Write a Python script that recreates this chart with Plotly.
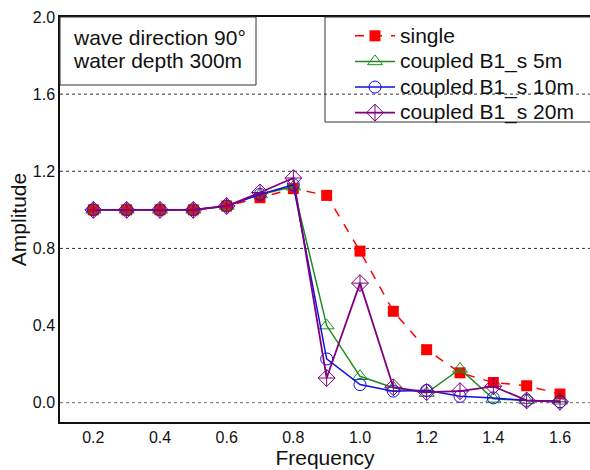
import plotly.graph_objects as go

# Frequency axis and response amplitudes
freq = [0.2, 0.3, 0.4, 0.5, 0.6, 0.7, 0.8, 0.9, 1.0, 1.1, 1.2, 1.3, 1.4, 1.5, 1.6]
single = [1.0, 1.0, 1.0, 1.0, 1.02, 1.063, 1.11, 1.075, 0.786, 0.474, 0.275, 0.155, 0.105, 0.088, 0.045]
coupled_5m = [1.0, 1.0, 1.0, 1.0, 1.02, 1.08, 1.12, 0.40, 0.137, 0.078, 0.05, 0.175, 0.02, 0.012, 0.01]
coupled_10m = [1.0, 1.0, 1.0, 1.0, 1.02, 1.08, 1.13, 0.227, 0.094, 0.06, 0.064, 0.033, 0.025, 0.012, 0.005]
coupled_20m = [1.0, 1.0, 1.0, 1.0, 1.02, 1.09, 1.165, 0.128, 0.62, 0.08, 0.055, 0.06, 0.085, 0.012, 0.005]

series_names = ["single", "coupled B1_s 5m", "coupled B1_s 10m", "coupled B1_s 20m"]
y_ticks = [0.0, 0.4, 0.8, 1.2, 1.6, 2.0]
x_ticks = [0.2, 0.4, 0.6, 0.8, 1.0, 1.2, 1.4, 1.6]
info_lines = ["wave direction 90°", "water depth 300m"]

FONT = "Liberation Sans, Arial, sans-serif"
PW, PH = 530, 405  # plot area size in px


def legend_label(text):
    # larger glyphs while keeping the legend's compact row spacing
    return f'<span style="font-size:21px">{text}</span>'


fig = go.Figure()

fig.add_trace(go.Scatter(
    x=freq, y=single, name=legend_label(series_names[0]), mode="lines+markers",
    line=dict(color="#ff0000", width=1.5, dash="dash"),
    marker=dict(symbol="square", size=11, color="#ff0000"),
))
fig.add_trace(go.Scatter(
    x=freq, y=coupled_5m, name=legend_label(series_names[1]), mode="lines+markers",
    line=dict(color="#1e8c1e", width=1.5),
    marker=dict(symbol="triangle-up-open", size=13, color="#1e8c1e", line=dict(width=1)),
))
fig.add_trace(go.Scatter(
    x=freq, y=coupled_10m, name=legend_label(series_names[2]), mode="lines+markers",
    line=dict(color="#1010e6", width=1.5),
    marker=dict(symbol="circle-open", size=12, color="#1010e6", line=dict(width=1)),
))
fig.add_trace(go.Scatter(
    x=freq, y=coupled_20m, name=legend_label(series_names[3]), mode="lines+markers",
    line=dict(color="#800080", width=1.8),
    marker=dict(symbol="diamond-cross-open", size=13, color="#800080", line=dict(width=1)),
))

# Light dotted baseline at zero
fig.add_shape(type="line", xref="paper", yref="y", x0=0, x1=1, y0=0, y1=0,
              line=dict(color="#888888", width=1.2, dash="dot"), layer="below")

# Dashed reference lines at the inner tick values
for yv in y_ticks[2:-1]:
    fig.add_shape(type="line", xref="paper", yref="y", x0=0, x1=1, y0=yv, y1=yv,
                  line=dict(color="#333333", width=1, dash="3px,3px"), layer="below")

# Boxes around the info text and the legend
fig.add_shape(type="rect", xref="paper", yref="paper",
              x0=0, x1=196 / PW, y0=1 - 68 / PH, y1=1,
              line=dict(color="#333333", width=1), fillcolor="white", layer="above")
fig.add_shape(type="rect", xref="paper", yref="paper",
              x0=265 / PW, x1=1.05, y0=1 - 105 / PH, y1=1,
              line=dict(color="#333333", width=1), fillcolor="rgba(0,0,0,0)", layer="above")

for i, line_text in enumerate(info_lines):
    fig.add_annotation(
        xref="paper", yref="paper", x=11 / PW, y=1 - (21 + 23 * i) / PH,
        xanchor="left", yanchor="middle", align="left", showarrow=False,
        text=line_text,
        font=dict(family=FONT, size=21, color="#111111"),
    )

fig.update_layout(
    width=590, height=470,
    margin=dict(l=60, r=0, t=17, b=48),
    paper_bgcolor="white", plot_bgcolor="white",
    font=dict(family=FONT, size=16, color="#111111"),
    showlegend=True,
    legend=dict(
        x=290 / PW, y=1 - 1 / PH, xanchor="left", yanchor="top",
        bgcolor="rgba(255,255,255,0)", borderwidth=0,
        font=dict(family=FONT, size=17.4, color="#111111"),
        tracegroupgap=0, itemwidth=40,
    ),
    xaxis=dict(
        range=[0.1, 1.69], tickvals=x_ticks, tickformat=".1f",
        showline=True, linecolor="#111111", linewidth=1.5, mirror=True,
        showgrid=False, zeroline=False, ticks="",
        tickfont=dict(size=16),
        title=dict(text="Frequency", font=dict(family=FONT, size=21), standoff=1),
    ),
    yaxis=dict(
        range=[-0.1, 2.0], tickvals=y_ticks, tickformat=".1f",
        showline=True, linecolor="#111111", linewidth=1.5,
        showgrid=False, zeroline=False, ticks="",
        tickfont=dict(size=16),
        title=dict(text="Amplitude", font=dict(family=FONT, size=21), standoff=0),
    ),
)

fig.write_html("out.html")
